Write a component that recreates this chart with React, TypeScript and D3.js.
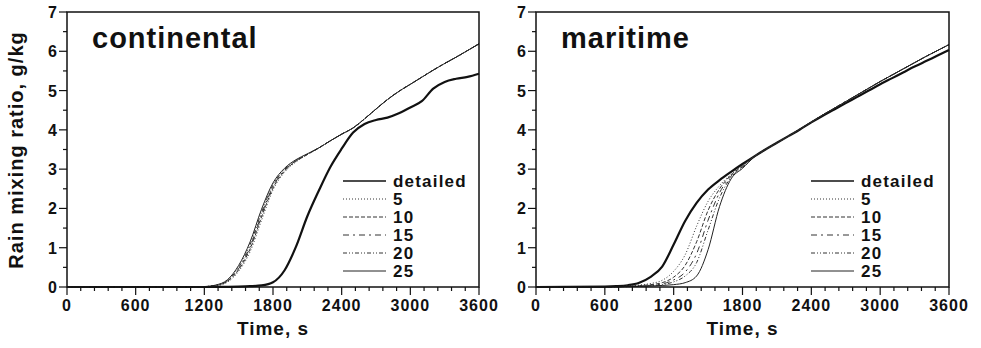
import React from 'react';
import * as d3 from 'd3';

const times = [0, 600, 700, 800, 900, 1000, 1100, 1200, 1300, 1400, 1500, 1600, 1700, 1800, 1900, 2000, 2100, 2200, 2300, 2400, 2500, 2600, 2700, 2800, 2900, 3000, 3100, 3200, 3300, 3400, 3500, 3600];

const seriesNames = ['detailed', '5', '10', '15', '20', '25'];
const xTicks = [0, 600, 1200, 1800, 2400, 3000, 3600];
const yTicks = [0, 1, 2, 3, 4, 5, 6, 7];

// continental
const contDetailed = [0, 0, 0, 0, 0, 0, 0, 0, 0.002, 0.005, 0.01, 0.02, 0.04, 0.12, 0.42, 1.02, 1.8, 2.45, 3.05, 3.52, 3.93, 4.15, 4.25, 4.31, 4.42, 4.57, 4.73, 5.05, 5.22, 5.3, 5.35, 5.43];
const cont5 = [0, 0, 0, 0, 0, 0, 0.003, 0.01, 0.03, 0.12, 0.4, 0.9, 1.7, 2.47, 2.92, 3.18, 3.37, 3.54, 3.72, 3.89, 4.05, 4.28, 4.53, 4.77, 4.98, 5.16, 5.34, 5.52, 5.69, 5.85, 6.02, 6.19];
const cont10 = [0, 0, 0, 0, 0, 0, 0.003, 0.01, 0.035, 0.14, 0.44, 0.97, 1.78, 2.52, 2.95, 3.2, 3.37, 3.54, 3.72, 3.89, 4.05, 4.28, 4.53, 4.77, 4.98, 5.16, 5.34, 5.52, 5.69, 5.85, 6.02, 6.19];
const cont15 = [0, 0, 0, 0, 0, 0, 0.003, 0.01, 0.04, 0.15, 0.47, 1.02, 1.84, 2.56, 2.97, 3.21, 3.38, 3.54, 3.72, 3.89, 4.05, 4.28, 4.53, 4.77, 4.98, 5.16, 5.34, 5.52, 5.69, 5.85, 6.02, 6.19];
const cont20 = [0, 0, 0, 0, 0, 0, 0.003, 0.01, 0.045, 0.16, 0.5, 1.08, 1.9, 2.6, 2.99, 3.22, 3.38, 3.54, 3.72, 3.89, 4.05, 4.28, 4.53, 4.77, 4.98, 5.16, 5.34, 5.52, 5.69, 5.85, 6.02, 6.19];
const cont25 = [0, 0, 0, 0, 0, 0, 0.003, 0.01, 0.05, 0.18, 0.55, 1.15, 1.98, 2.65, 3.02, 3.24, 3.39, 3.54, 3.72, 3.89, 4.05, 4.28, 4.53, 4.77, 4.98, 5.16, 5.34, 5.52, 5.69, 5.85, 6.02, 6.19];

// maritime
const marDetailed = [0, 0.01, 0.02, 0.045, 0.11, 0.26, 0.52, 1.08, 1.68, 2.14, 2.48, 2.72, 2.93, 3.13, 3.32, 3.5, 3.67, 3.84, 4.01, 4.19, 4.36, 4.52, 4.68, 4.84, 5.0, 5.16, 5.31, 5.46, 5.61, 5.75, 5.89, 6.03];
const mar5 = [0, 0.005, 0.01, 0.025, 0.05, 0.09, 0.17, 0.4, 0.82, 1.55, 2.18, 2.58, 2.87, 3.1, 3.32, 3.5, 3.67, 3.84, 4.02, 4.2, 4.38, 4.55, 4.72, 4.89, 5.06, 5.23, 5.39, 5.55, 5.71, 5.87, 6.02, 6.17];
const mar10 = [0, 0.004, 0.008, 0.018, 0.035, 0.06, 0.11, 0.25, 0.55, 1.15, 1.95, 2.5, 2.85, 3.08, 3.32, 3.5, 3.67, 3.84, 4.02, 4.2, 4.38, 4.55, 4.72, 4.89, 5.06, 5.23, 5.39, 5.55, 5.71, 5.87, 6.02, 6.17];
const mar15 = [0, 0.003, 0.006, 0.013, 0.025, 0.045, 0.08, 0.18, 0.38, 0.85, 1.7, 2.4, 2.82, 3.06, 3.31, 3.5, 3.67, 3.84, 4.02, 4.2, 4.38, 4.55, 4.72, 4.89, 5.06, 5.23, 5.39, 5.55, 5.71, 5.87, 6.02, 6.17];
const mar20 = [0, 0.002, 0.005, 0.01, 0.02, 0.035, 0.06, 0.13, 0.28, 0.62, 1.45, 2.27, 2.79, 3.04, 3.31, 3.5, 3.67, 3.84, 4.02, 4.2, 4.38, 4.55, 4.72, 4.89, 5.06, 5.23, 5.39, 5.55, 5.71, 5.87, 6.02, 6.17];
const mar25 = [0, 0.002, 0.004, 0.008, 0.015, 0.025, 0.04, 0.06, 0.11, 0.28, 0.95, 2.05, 2.75, 3.02, 3.3, 3.5, 3.67, 3.84, 4.02, 4.2, 4.38, 4.55, 4.72, 4.89, 5.06, 5.23, 5.39, 5.55, 5.71, 5.87, 6.02, 6.17];

const contSeries = [contDetailed, cont5, cont10, cont15, cont20, cont25];
const marSeries = [marDetailed, mar5, mar10, mar15, mar20, mar25];

const FONT = '"Liberation Sans", Arial, Helvetica, sans-serif';
const styles = [
  { w: 2.2, dash: 'none', c: '#111' },
  { w: 1, dash: '1,2', c: '#333' },
  { w: 1, dash: '4,2', c: '#333' },
  { w: 1, dash: '6,4,2,4', c: '#333' },
  { w: 1, dash: '4,2,1,2,1,2', c: '#333' },
  { w: 1, dash: 'none', c: '#222' },
];

function Panel({ x0, x1, title, series, legendX }: { x0: number; x1: number; title: string; series: number[][]; legendX: number }) {
  const yTop = 12, yBot = 287;
  const x = d3.scaleLinear().domain([0, 3600]).range([x0, x1]);
  const y = d3.scaleLinear().domain([0, 7]).range([yBot, yTop]);
  const line = d3.line<number>().x((_, i) => x(times[i])).y((d) => y(d)).curve(d3.curveMonotoneX);
  const minorX = d3.range(0, 3601, 120);
  const minorY = d3.range(0, 7.01, 0.5);
  return (
    <g>
      {series.map((s, i) => (
        <path key={i} d={line(s) || ''} fill="none" stroke={styles[i].c} strokeWidth={styles[i].w} strokeDasharray={styles[i].dash} />
      ))}
      <rect x={x0} y={yTop} width={x1 - x0} height={yBot - yTop} fill="none" stroke="#111" strokeWidth={1.5} />
      {minorX.map((t) => {
        const major = t % 600 === 0;
        return <line key={'mx' + t} x1={x(t)} x2={x(t)} y1={yBot} y2={yBot + (major ? 8 : 4)} stroke="#111" strokeWidth={1.2} />;
      })}
      {minorY.map((v) => {
        const major = Math.abs(v - Math.round(v)) < 1e-6;
        return <line key={'my' + v} x1={x0 - (major ? 8 : 4)} x2={x0} y1={y(v)} y2={y(v)} stroke="#111" strokeWidth={1.2} />;
      })}
      {xTicks.map((t) => (
        <text key={'xt' + t} x={x(t)} y={311} textAnchor="middle" fontFamily={FONT} fontWeight="bold" fontSize={16} letterSpacing={1} fill="#111">{t}</text>
      ))}
      {yTicks.map((v) => (
        <text key={'yt' + v} x={x0 - 10} y={y(v) + 6} textAnchor="end" fontFamily={FONT} fontWeight="bold" fontSize={16} fill="#111">{v}</text>
      ))}
      <text x={(x0 + x1) / 2} y={335} textAnchor="middle" fontFamily={FONT} fontWeight="bold" fontSize={19} letterSpacing={1} fill="#111">Time, s</text>
      <text x={x0 + 25} y={48} fontFamily={FONT} fontWeight="bold" fontSize={29} letterSpacing={1} fill="#111">{title}</text>
      {seriesNames.map((n, i) => {
        const ly = y(0) - 106 + i * 18;
        return (
          <g key={'lg' + n}>
            <line x1={legendX} x2={legendX + 43} y1={ly} y2={ly} stroke={styles[i].c} strokeWidth={i === 0 ? 1.6 : 1} strokeDasharray={styles[i].dash} />
            <text x={legendX + 50} y={ly + 6} fontFamily={FONT} fontWeight="bold" fontSize={17} letterSpacing={1.2} fill="#111">{n}</text>
          </g>
        );
      })}
    </g>
  );
}

export default function App() {
  return (
    <svg width={981} height={348} style={{ position: 'absolute', left: 0, top: 0, background: '#fff' }}>
      <rect x={0} y={0} width={981} height={348} fill="#fff" />
      <text transform="translate(23,150) rotate(-90)" textAnchor="middle" fontFamily={FONT} fontWeight="bold" fontSize={20} letterSpacing={1} fill="#111">Rain mixing ratio, g/kg</text>
      <Panel x0={67} x1={479} title="continental" series={contSeries} legendX={343} />
      <Panel x0={536} x1={949} title="maritime" series={marSeries} legendX={811} />
    </svg>
  );
}
